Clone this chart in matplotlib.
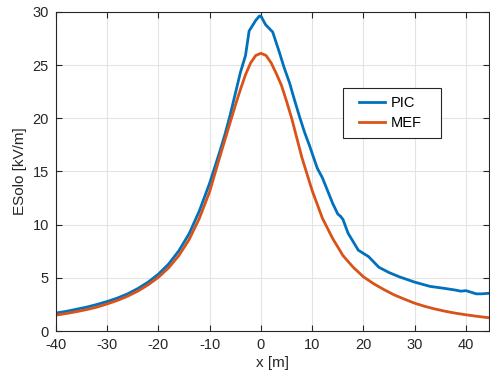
import matplotlib
matplotlib.use("Agg")
import matplotlib.pyplot as plt
from matplotlib.patches import Rectangle

# PIC curve (blue)
x_pic = [-40, -38, -36, -34, -32, -30, -28, -26, -24, -22, -20, -18, -16, -14, -12, -10,
         -8, -7, -6, -5, -4, -3, -2.3, -1, -0.3, 0, 0.9, 2.3, 3.6, 4.5, 5.6, 6.5, 7.5, 8.5,
         9.5, 10.5, 11, 12, 13, 14, 15, 15.5, 16, 17, 18, 19, 20, 21, 22, 23, 25, 27, 30,
         33, 36, 38, 39, 40, 41, 42, 43, 44.5]
y_pic = [1.70, 1.85, 2.05, 2.25, 2.50, 2.78, 3.10, 3.50, 4.00, 4.60, 5.35, 6.30, 7.55, 9.15,
         11.3, 13.9, 16.9, 18.5, 20.3, 22.3, 24.3, 25.9, 28.2, 29.2, 29.6, 29.6, 28.8, 28.1,
         26.2, 24.8, 23.3, 21.8, 20.2, 18.7, 17.4, 16.0, 15.3, 14.4, 13.2, 12.0, 11.0, 10.8,
         10.5, 9.2, 8.4, 7.6, 7.3, 7.0, 6.5, 6.0, 5.5, 5.1, 4.6, 4.2, 4.0, 3.85, 3.75, 3.80,
         3.65, 3.50, 3.50, 3.55]

# MEF curve (orange)
x_mef = [-40, -38, -36, -34, -32, -30, -28, -26, -24, -22, -20, -18, -16, -14, -12, -10,
         -8, -6, -5, -4, -3, -2, -1, 0, 1, 2, 3, 4, 5, 6, 8, 10, 12, 14, 16, 18, 20, 22,
         24, 26, 28, 30, 32, 34, 36, 38, 40, 42, 44.5]
y_mef = [1.50, 1.65, 1.82, 2.02, 2.25, 2.55, 2.88, 3.28, 3.76, 4.35, 5.05, 5.95, 7.10, 8.60,
         10.6, 13.1, 16.4, 19.6, 21.2, 22.7, 24.1, 25.2, 25.9, 26.1, 25.9, 25.2, 24.2, 23.1,
         21.6, 20.0, 16.3, 13.2, 10.6, 8.7, 7.1, 6.0, 5.1, 4.45, 3.9, 3.4, 3.0, 2.62, 2.32,
         2.07, 1.86, 1.68, 1.53, 1.40, 1.25]

plt.rcParams['font.family'] = ['Liberation Sans', 'DejaVu Sans']
plt.rcParams['axes.unicode_minus'] = False
dark = '#262626'

fig = plt.figure(figsize=(4.9, 3.81), dpi=100)
ax = fig.add_axes([0.114, 0.131, 0.884, 0.838])

ax.plot(x_pic, y_pic, color='#0072BD', lw=2, label='PIC')
ax.plot(x_mef, y_mef, color='#D95319', lw=2, label='MEF')

ax.set_xlim(-40, 44.5)
ax.set_ylim(0, 30)
ax.set_xticks(range(-40, 41, 10))
ax.set_yticks(range(0, 31, 5))
ax.grid(True, color='#e3e3e3', lw=0.8)
ax.set_axisbelow(True)
ax.tick_params(direction='in', top=True, right=True, length=4, colors=dark,
               labelsize=10.5, labelcolor=dark, pad=5)
for s in ax.spines.values():
    s.set_color(dark)
    s.set_linewidth(0.8)

ax.set_xlabel('x [m]', fontsize=11, color=dark, labelpad=3)
ax.set_ylabel('ESolo [kV/m]', fontsize=11, color=dark, labelpad=4)

# legend box drawn by hand (MATLAB style padding)
box = Rectangle((0.663, 0.604), 0.226, 0.157, transform=ax.transAxes,
                facecolor='white', edgecolor=dark, lw=0.8, zorder=4)
ax.add_patch(box)
leg = ax.legend(loc='center left', bbox_to_anchor=(0.700, 0.683), fontsize=10.5,
                frameon=False, handlelength=1.8, handletextpad=0.35,
                borderpad=0, borderaxespad=0, labelspacing=0.41)
leg.set_zorder(5)
for t in leg.get_texts():
    t.set_color('black')

fig.savefig('out.png', dpi=100)
